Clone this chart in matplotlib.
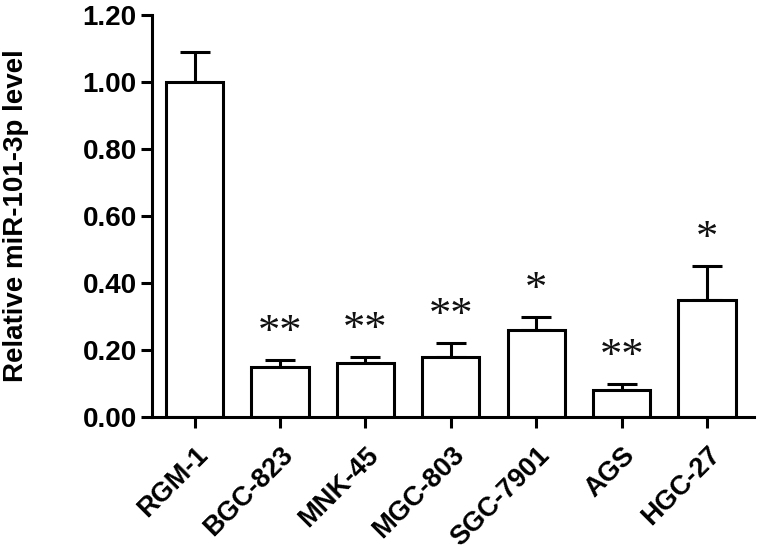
import numpy as np
import matplotlib.pyplot as plt

plt.rcParams['font.family'] = ['Liberation Sans', 'DejaVu Sans']

cell_lines = ['RGM-1', 'BGC-823', 'MNK-45', 'MGC-803', 'SGC-7901', 'AGS', 'HGC-27']
levels = [1.00, 0.15, 0.16, 0.18, 0.26, 0.08, 0.35]
errors = [0.09, 0.02, 0.02, 0.04, 0.04, 0.02, 0.10]
stars = ['', '**', '**', '**', '*', '**', '*']

x = np.arange(len(cell_lines))

fig = plt.figure(figsize=(7.6, 5.5), dpi=100)
ax = fig.add_axes([152 / 760, 1 - 417 / 550, (754 - 152) / 760, (417 - 15) / 550])

ax.bar(x, levels, width=0.67, color='white', edgecolor='black', linewidth=2.2, zorder=2)
ax.errorbar(x, levels, yerr=[np.zeros(len(errors)), errors], fmt='none',
            ecolor='black', elinewidth=2.2, capsize=11, capthick=2.2, zorder=1)

for xi, lv, er, s in zip(x, levels, errors, stars):
    if s:
        ax.text(xi, lv + er + 0.08, s, ha='center', va='center', fontsize=32,
                family='Liberation Serif', color='#111111')

ax.set_xlim(-0.5, 6.55)
ax.set_ylim(0, 1.2)
ax.set_yticks(np.arange(0, 1.21, 0.2))
ax.set_yticklabels(['%.2f' % v for v in np.arange(0, 1.21, 0.2)], fontsize=20, fontweight='bold')
ax.set_xticks(x)
ax.set_xticklabels(cell_lines, rotation=45, ha='right', rotation_mode='anchor',
                   fontsize=19.5, fontweight='bold')
ax.set_ylabel('Relative miR-101-3p level', fontsize=20, fontweight='bold')
ax.yaxis.set_label_coords(-0.205, 0.5)

for side in ['top', 'right']:
    ax.spines[side].set_visible(False)
for side in ['left', 'bottom']:
    ax.spines[side].set_linewidth(2.2)
ax.tick_params(axis='both', width=2.2, length=8, direction='out', pad=3)
ax.tick_params(axis='x', pad=10)

plt.savefig('out.png', dpi=100)
